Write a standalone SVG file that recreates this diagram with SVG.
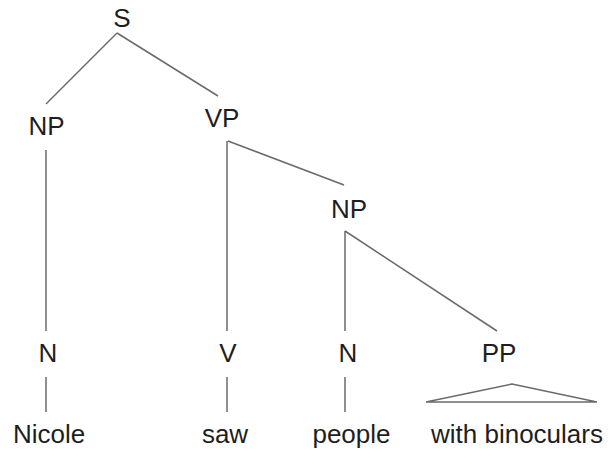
<svg xmlns="http://www.w3.org/2000/svg" width="608" height="450" viewBox="0 0 608 450">
<style>
text{font-family:"Liberation Sans",Arial,sans-serif;font-size:26px;fill:#1e1e1e;text-anchor:middle}
line,polygon{stroke:#6a6a6a;stroke-width:1.5;fill:none}
</style>
<rect width="608" height="450" fill="#fff"/>
<g id="connectors">
<line x1="117" y1="33" x2="46" y2="104"/>
<line x1="117" y1="33" x2="218" y2="96"/>
<line x1="46" y1="150" x2="46" y2="331"/>
<line x1="227" y1="141" x2="227" y2="331"/>
<line x1="228" y1="141" x2="344" y2="185"/>
<line x1="345" y1="231" x2="345" y2="331"/>
<line x1="345" y1="231" x2="497" y2="331"/>
<line x1="46" y1="377" x2="46" y2="412"/>
<line x1="227" y1="377" x2="227" y2="412"/>
<line x1="345" y1="377" x2="345" y2="412"/>
<polygon points="426,402 512,384 597,402"/>
</g>
<g id="S"><text x="122" y="27">S</text></g>
<g id="NP1"><text x="46.5" y="135">NP</text></g>
<g id="VP"><text x="222" y="127">VP</text></g>
<g id="NP2"><text x="349" y="218">NP</text></g>
<g id="N1"><text x="48" y="362">N</text></g>
<g id="V"><text x="228" y="362">V</text></g>
<g id="N2"><text x="348" y="362">N</text></g>
<g id="PP"><text x="499" y="362">PP</text></g>
<g id="Nicole"><text x="49" y="443">Nicole</text></g>
<g id="saw"><text x="225" y="443">saw</text></g>
<g id="people"><text x="351.5" y="443">people</text></g>
<g id="with-binoculars"><text x="517" y="443">with binoculars</text></g>
</svg>
